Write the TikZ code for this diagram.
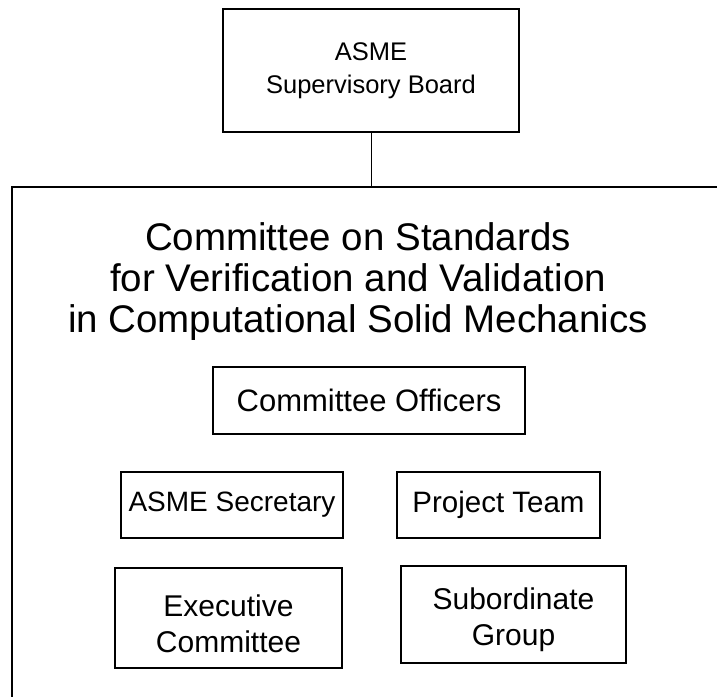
\documentclass[tikz,border=0pt]{standalone}
\usepackage{fontspec}
\setmainfont{Liberation Sans}
\begin{document}
\begin{tikzpicture}[x=1pt,y=-1pt,
  box/.style={draw=black,line width=1.3pt,inner sep=0pt,align=center},
  txt/.style={inner sep=0pt,align=center}]
\useasboundingbox (0,0) rectangle (717,696);
\clip (0,0) rectangle (717,696);
% outer committee frame (continues past the right and bottom edges)
\node[draw=black,line width=1.6pt,minimum width=760pt,minimum height=560pt,anchor=north west,inner sep=0pt] (frame) at (11,186) {};
\node[box,minimum width=296pt,minimum height=123pt,font=\fontsize{25.5}{33}\selectfont] (board) at (371,70.5) {ASME\\Supervisory Board};
\coordinate (ftop) at (371,186);
\draw[line width=1pt] (board.south) -- (ftop);
\node[txt,font=\fontsize{38.5}{41}\selectfont] (title) at (358,282) {Committee on Standards\\for Verification and Validation\\in Computational Solid Mechanics};
\node[box,minimum width=312pt,minimum height=67pt,font=\fontsize{31}{36}\selectfont] (officers) at (369,400.5) {Committee Officers};
\node[box,minimum width=222pt,minimum height=66pt,font=\fontsize{28}{34}\selectfont] (secretary) at (232,505) {ASME Secretary};
\node[box,minimum width=203pt,minimum height=66pt,font=\fontsize{29.5}{34}\selectfont] (project) at (498.5,505) {Project Team};
\node[box,minimum width=227pt,minimum height=100pt,font=\fontsize{30}{36}\selectfont] (exec) at (228.5,618) {\rule{0pt}{34pt}Executive\\Committee};
\node[box,minimum width=225pt,minimum height=97pt,font=\fontsize{30}{36}\selectfont] (sub) at (513.5,614.5) {\rule{0pt}{32pt}Subordinate\\Group};
\end{tikzpicture}
\end{document}
